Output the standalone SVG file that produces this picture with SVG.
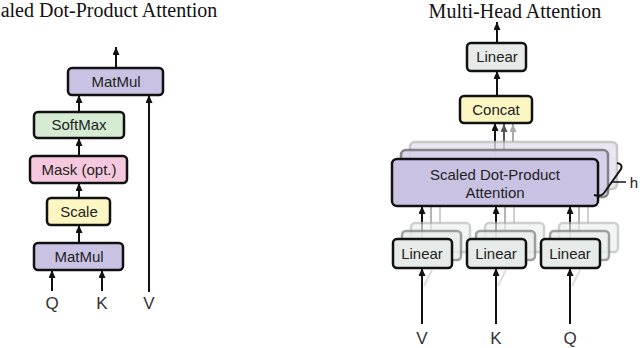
<svg xmlns="http://www.w3.org/2000/svg" width="640" height="348" viewBox="0 0 640 348">
<style>
.title{font-family:"Liberation Serif","Times New Roman",serif;font-size:20px;fill:#111;text-anchor:middle}
.lbl{font-family:"Liberation Sans",Arial,sans-serif;font-size:15px;fill:#222;text-anchor:middle}
.io{font-family:"Liberation Sans",Arial,sans-serif;font-size:17px;fill:#333;text-anchor:middle}
.box{stroke:#111;stroke-width:2.5}
.purple{fill:#c9c2e3}
.green{fill:#d5ecd3}
.pink{fill:#f6c8de}
.yellow{fill:#fcf7c2}
.gray{fill:#e6ebe9}
.arr{stroke:#111;stroke-width:2;fill:none;marker-end:url(#ah)}
.arr2{stroke:#555;stroke-width:2;fill:none;marker-end:url(#ah2)}
.arr3{stroke:#aaa;stroke-width:2;fill:none;marker-end:url(#ah3)}
.ghost{stroke:#999;stroke-width:2;fill:none;opacity:0.6}
</style>
<defs>
<marker id="ah" markerUnits="userSpaceOnUse" markerWidth="8" markerHeight="8" refX="8" refY="3.5" orient="auto"><path d="M0,0 L8,3.5 L0,7 z" fill="#111"/></marker>
<marker id="ah2" markerUnits="userSpaceOnUse" markerWidth="8" markerHeight="8" refX="8" refY="3.5" orient="auto"><path d="M0,0 L8,3.5 L0,7 z" fill="#555"/></marker>
<marker id="ah3" markerUnits="userSpaceOnUse" markerWidth="8" markerHeight="8" refX="8" refY="3.5" orient="auto"><path d="M0,0 L8,3.5 L0,7 z" fill="#aaa"/></marker>
</defs>

<text class="title" x="99" y="17">Scaled Dot-Product Attention</text>
<text class="title" x="515" y="18">Multi-Head Attention</text>

<g id="connectors">
<line class="arr" x1="116" y1="68" x2="116" y2="47"/>
<line class="arr" x1="79" y1="112" x2="79" y2="95"/>
<line class="arr" x1="79" y1="156" x2="79" y2="138"/>
<line class="arr" x1="79" y1="198" x2="79" y2="183"/>
<line class="arr" x1="79" y1="243" x2="79" y2="225"/>
<line class="arr" x1="52" y1="291" x2="52" y2="270"/>
<line class="arr" x1="102" y1="291" x2="102" y2="270"/>
<line class="arr" x1="149" y1="292" x2="149" y2="95"/>

<line class="arr" x1="497" y1="43" x2="497" y2="22"/>
<line class="arr" x1="497" y1="96" x2="497" y2="71"/>
<line class="arr3" x1="513" y1="142" x2="513" y2="124"/>
<line class="arr2" x1="504" y1="150" x2="504" y2="124"/>
<line class="arr" x1="495" y1="159" x2="495" y2="123"/>

<g opacity="0.55">
<line x1="440" y1="223" x2="440" y2="206" stroke="#aaa" stroke-width="2"/>
<line x1="431" y1="231" x2="431" y2="206" stroke="#777" stroke-width="2"/>
<line x1="514" y1="223" x2="514" y2="206" stroke="#aaa" stroke-width="2"/>
<line x1="505" y1="231" x2="505" y2="206" stroke="#777" stroke-width="2"/>
<line x1="588" y1="223" x2="588" y2="206" stroke="#aaa" stroke-width="2"/>
<line x1="579" y1="231" x2="579" y2="206" stroke="#777" stroke-width="2"/>
<line class="ghost" x1="424" y1="286" x2="432" y2="270"/>
<line class="ghost" x1="498" y1="286" x2="506" y2="270"/>
<line class="ghost" x1="572" y1="286" x2="580" y2="270"/>
</g>
<line class="arr" x1="422" y1="239" x2="422" y2="206"/>
<line class="arr" x1="496" y1="239" x2="496" y2="206"/>
<line class="arr" x1="570" y1="239" x2="570" y2="206"/>
<line class="arr" x1="422" y1="324" x2="422" y2="268"/>
<line class="arr" x1="496" y1="324" x2="496" y2="268"/>
<line class="arr" x1="570" y1="324" x2="570" y2="268"/>
</g>

<g id="matmul-top"><rect class="box purple" x="68" y="68" width="95" height="27" rx="4"/><text class="lbl" x="116" y="87">MatMul</text></g>
<g id="softmax"><rect class="box green" x="34" y="112" width="90" height="26" rx="4"/><text class="lbl" x="79" y="130">SoftMax</text></g>
<g id="mask"><rect class="box pink" x="30" y="156" width="97" height="27" rx="4"/><text class="lbl" x="79" y="175">Mask (opt.)</text></g>
<g id="scale"><rect class="box yellow" x="47" y="198" width="63" height="27" rx="4"/><text class="lbl" x="79" y="217">Scale</text></g>
<g id="matmul-bottom"><rect class="box purple" x="34" y="243" width="89" height="27" rx="4"/><text class="lbl" x="79" y="262">MatMul</text></g>
<g id="q-left"><text class="io" x="52" y="309">Q</text></g>
<g id="k-left"><text class="io" x="102" y="309">K</text></g>
<g id="v-left"><text class="io" x="149" y="309">V</text></g>

<g id="linear-out"><rect class="box gray" x="467" y="43" width="59" height="28" rx="4"/><text class="lbl" x="497" y="62">Linear</text></g>
<g id="concat"><rect class="box yellow" x="460" y="96" width="72" height="27" rx="4"/><text class="lbl" x="496" y="115">Concat</text></g>

<g id="attention">
<rect x="410" y="142" width="207" height="47" rx="5" fill="#e4e0f0" stroke="#bbb" stroke-width="2.5" opacity="0.8"/>
<rect x="401" y="150" width="207" height="47" rx="5" fill="#d6d0ea" stroke="#777" stroke-width="2.5" opacity="0.9"/>
<rect class="box purple" x="392" y="159" width="206" height="47" rx="5"/>
<text class="lbl" x="495" y="180">Scaled Dot-Product</text>
<text class="lbl" x="495" y="198">Attention</text>
</g>
<g id="h-brace">
<path d="M617,163 Q623,164 621,169 L604,193 Q601,197 594,195" fill="none" stroke="#111" stroke-width="2"/>
<line x1="612" y1="182" x2="626" y2="182" stroke="#111" stroke-width="1.5"/>
<text class="lbl" x="634" y="188">h</text>
</g>

<g id="linear-v">
<rect x="411" y="223" width="59" height="29" rx="4" fill="#eef1f0" stroke="#bbb" stroke-width="2.5" opacity="0.7"/>
<rect x="402" y="231" width="59" height="29" rx="4" fill="#e9edeb" stroke="#888" stroke-width="2.5" opacity="0.8"/>
<rect class="box gray" x="393" y="239" width="59" height="29" rx="4"/><text class="lbl" x="422" y="259">Linear</text></g>
<g id="linear-k">
<rect x="485" y="223" width="59" height="29" rx="4" fill="#eef1f0" stroke="#bbb" stroke-width="2.5" opacity="0.7"/>
<rect x="476" y="231" width="59" height="29" rx="4" fill="#e9edeb" stroke="#888" stroke-width="2.5" opacity="0.8"/>
<rect class="box gray" x="467" y="239" width="59" height="29" rx="4"/><text class="lbl" x="496" y="259">Linear</text></g>
<g id="linear-q">
<rect x="559" y="223" width="59" height="29" rx="4" fill="#eef1f0" stroke="#bbb" stroke-width="2.5" opacity="0.7"/>
<rect x="550" y="231" width="59" height="29" rx="4" fill="#e9edeb" stroke="#888" stroke-width="2.5" opacity="0.8"/>
<rect class="box gray" x="541" y="239" width="59" height="29" rx="4"/><text class="lbl" x="570" y="259">Linear</text></g>
<g id="v-right"><text class="io" x="422" y="344">V</text></g>
<g id="k-right"><text class="io" x="496" y="344">K</text></g>
<g id="q-right"><text class="io" x="570" y="344">Q</text></g>
</svg>
